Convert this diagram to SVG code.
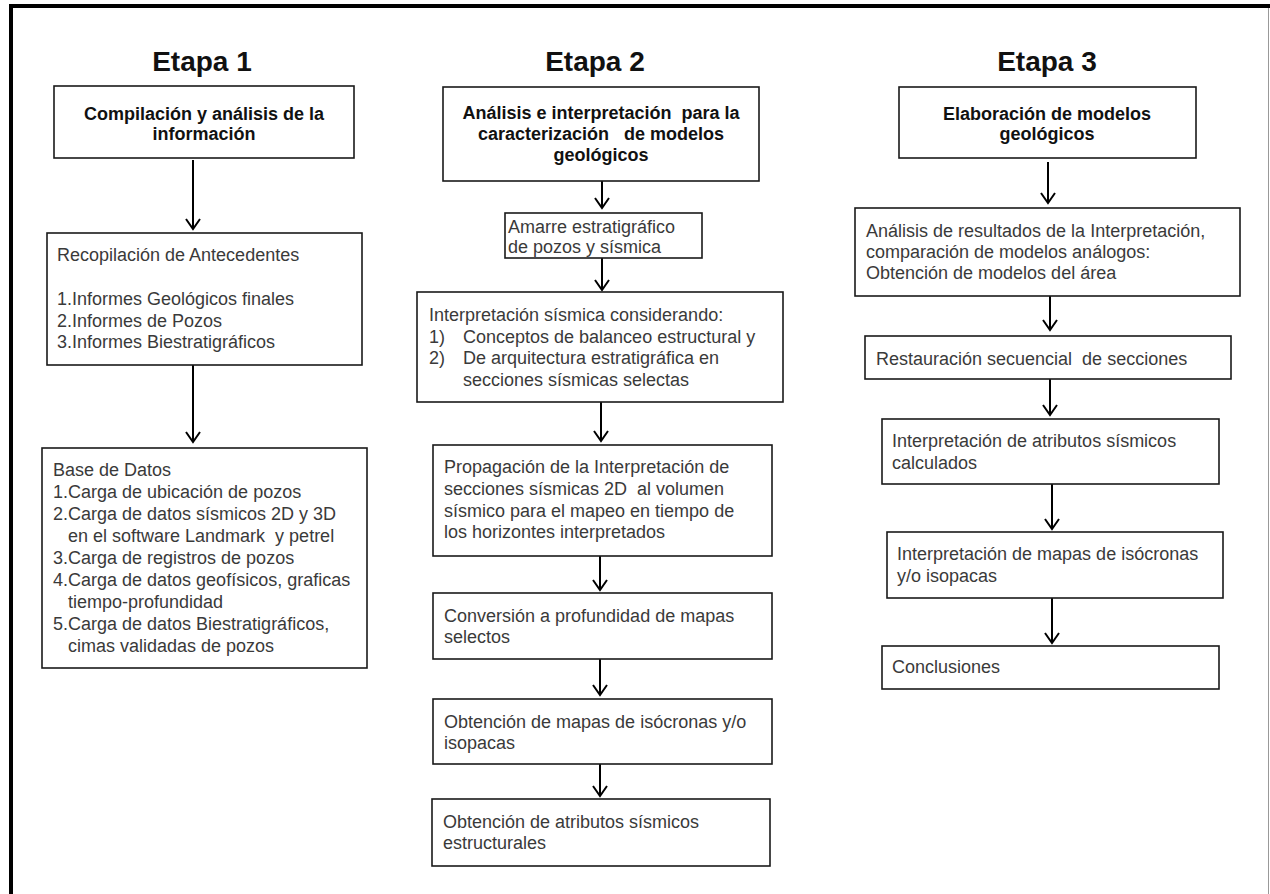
<svg xmlns="http://www.w3.org/2000/svg" width="1270" height="894" viewBox="0 0 1270 894">
<style>
text{white-space:pre}
.box{fill:#fff;stroke:#1a1a1a;stroke-width:1.6}
.t{font-family:"Liberation Sans",Arial,sans-serif;font-size:18px;fill:#3a3a3a}
.h{font-family:"Liberation Sans",Arial,sans-serif;font-size:18px;font-weight:bold;fill:#111;text-anchor:middle}
.et{font-family:"Liberation Sans",Arial,sans-serif;font-size:28px;font-weight:bold;fill:#111;text-anchor:middle}
.c{stroke:#000;stroke-width:2;fill:none}
</style>
<defs>
<marker id="ah" markerUnits="userSpaceOnUse" viewBox="-12 -9 14 18" markerWidth="14" markerHeight="18" refX="0" refY="0" orient="auto">
<path d="M-10,-7 L0,0 L-10,7" fill="none" stroke="#000" stroke-width="2"/>
</marker>
</defs>
<rect x="0" y="0" width="1270" height="894" fill="#fff"/>
<g id="frame">
<line x1="9" y1="6" x2="1270" y2="6" stroke="#000" stroke-width="4"/>
<line x1="11" y1="4" x2="11" y2="894" stroke="#000" stroke-width="4"/>
<line x1="1268.5" y1="8" x2="1268.5" y2="894" stroke="#999" stroke-width="1"/>
</g>
<g id="titles">
<text class="et" x="202" y="71">Etapa 1</text>
<text class="et" x="595" y="71">Etapa 2</text>
<text class="et" x="1047" y="71">Etapa 3</text>
</g>
<g id="connectors">
<line class="c" x1="193" y1="160" x2="193" y2="229" marker-end="url(#ah)"/>
<line class="c" x1="193" y1="365" x2="193" y2="442" marker-end="url(#ah)"/>
<line class="c" x1="602" y1="181" x2="602" y2="208" marker-end="url(#ah)"/>
<line class="c" x1="602" y1="258" x2="602" y2="290" marker-end="url(#ah)"/>
<line class="c" x1="601" y1="402" x2="601" y2="441" marker-end="url(#ah)"/>
<line class="c" x1="600" y1="556" x2="600" y2="590" marker-end="url(#ah)"/>
<line class="c" x1="600" y1="659" x2="600" y2="695" marker-end="url(#ah)"/>
<line class="c" x1="600" y1="764" x2="600" y2="796" marker-end="url(#ah)"/>
<line class="c" x1="1048" y1="162" x2="1048" y2="203" marker-end="url(#ah)"/>
<line class="c" x1="1050" y1="296" x2="1050" y2="330" marker-end="url(#ah)"/>
<line class="c" x1="1050" y1="379" x2="1050" y2="415" marker-end="url(#ah)"/>
<line class="c" x1="1052" y1="484" x2="1052" y2="529" marker-end="url(#ah)"/>
<line class="c" x1="1052" y1="598" x2="1052" y2="643" marker-end="url(#ah)"/>
</g>
<g id="e1-title">
<rect class="box" x="54" y="86" width="300" height="72"/>
<text class="h" x="204" y="120">Compilación y análisis de la</text>
<text class="h" x="204" y="140">información</text>
</g>
<g id="e1-recopilacion">
<rect class="box" x="47" y="233" width="315" height="132"/>
<text class="t" x="57" y="261">Recopilación de Antecedentes</text>
<text class="t" x="57" y="305">1.Informes Geológicos finales</text>
<text class="t" x="57" y="326.5">2.Informes de Pozos</text>
<text class="t" x="57" y="348">3.Informes Biestratigráficos</text>
</g>
<g id="e1-base">
<rect class="box" x="42" y="448" width="325" height="220"/>
<text class="t" x="53" y="476">Base de Datos</text>
<text class="t" x="53" y="498">1.Carga de ubicación de pozos</text>
<text class="t" x="53" y="520">2.Carga de datos sísmicos 2D y 3D</text>
<text class="t" x="68" y="542">en el software Landmark  y petrel</text>
<text class="t" x="53" y="564">3.Carga de registros de pozos</text>
<text class="t" x="53" y="585.5">4.Carga de datos geofísicos, graficas</text>
<text class="t" x="68" y="607.5">tiempo-profundidad</text>
<text class="t" x="53" y="629.5">5.Carga de datos Biestratigráficos,</text>
<text class="t" x="68" y="651.5">cimas validadas de pozos</text>
</g>
<g id="e2-title">
<rect class="box" x="443" y="87" width="316" height="94"/>
<text class="h" x="601" y="119">Análisis e interpretación  para la</text>
<text class="h" x="601" y="140">caracterización   de modelos</text>
<text class="h" x="601" y="161">geológicos</text>
</g>
<g id="e2-amarre">
<rect class="box" x="505" y="213" width="197" height="45"/>
<text class="t" x="508" y="233">Amarre estratigráfico</text>
<text class="t" x="508" y="253">de pozos y sísmica</text>
</g>
<g id="e2-interpretacion">
<rect class="box" x="417" y="292" width="366" height="110"/>
<text class="t" x="429" y="321">Interpretación sísmica considerando:</text>
<text class="t" x="429" y="342.5">1)</text>
<text class="t" x="463" y="342.5">Conceptos de balanceo estructural y</text>
<text class="t" x="429" y="364">2)</text>
<text class="t" x="463" y="364">De arquitectura estratigráfica en</text>
<text class="t" x="463" y="385.5">secciones sísmicas selectas</text>
</g>
<g id="e2-propagacion">
<rect class="box" x="433" y="445" width="339" height="111"/>
<text class="t" x="444" y="473">Propagación de la Interpretación de</text>
<text class="t" x="444" y="495">secciones sísmicas 2D  al volumen</text>
<text class="t" x="444" y="517">sísmico para el mapeo en tiempo de</text>
<text class="t" x="444" y="538">los horizontes interpretados</text>
</g>
<g id="e2-conversion">
<rect class="box" x="433" y="593" width="339" height="66"/>
<text class="t" x="444" y="622">Conversión a profundidad de mapas</text>
<text class="t" x="444" y="643">selectos</text>
</g>
<g id="e2-isocronas">
<rect class="box" x="433" y="699" width="339" height="65"/>
<text class="t" x="444" y="728">Obtención de mapas de isócronas y/o</text>
<text class="t" x="444" y="749">isopacas</text>
</g>
<g id="e2-atributos">
<rect class="box" x="432" y="799" width="338" height="67"/>
<text class="t" x="443" y="828">Obtención de atributos sísmicos</text>
<text class="t" x="443" y="849">estructurales</text>
</g>
<g id="e3-title">
<rect class="box" x="899" y="87" width="297" height="71"/>
<text class="h" x="1047" y="120">Elaboración de modelos</text>
<text class="h" x="1047" y="140">geológicos</text>
</g>
<g id="e3-analisis">
<rect class="box" x="855" y="208" width="385" height="88"/>
<text class="t" x="866" y="237">Análisis de resultados de la Interpretación,</text>
<text class="t" x="866" y="258">comparación de modelos análogos:</text>
<text class="t" x="866" y="279">Obtención de modelos del área</text>
</g>
<g id="e3-restauracion">
<rect class="box" x="865" y="336" width="366" height="43"/>
<text class="t" x="876" y="365">Restauración secuencial  de secciones</text>
</g>
<g id="e3-atributos">
<rect class="box" x="882" y="419" width="337" height="65"/>
<text class="t" x="892" y="447">Interpretación de atributos sísmicos</text>
<text class="t" x="892" y="469">calculados</text>
</g>
<g id="e3-mapas">
<rect class="box" x="887" y="532" width="336" height="66"/>
<text class="t" x="897" y="560">Interpretación de mapas de isócronas</text>
<text class="t" x="897" y="582">y/o isopacas</text>
</g>
<g id="e3-conclusiones">
<rect class="box" x="882" y="646" width="337" height="43"/>
<text class="t" x="892" y="673">Conclusiones</text>
</g>
</svg>
